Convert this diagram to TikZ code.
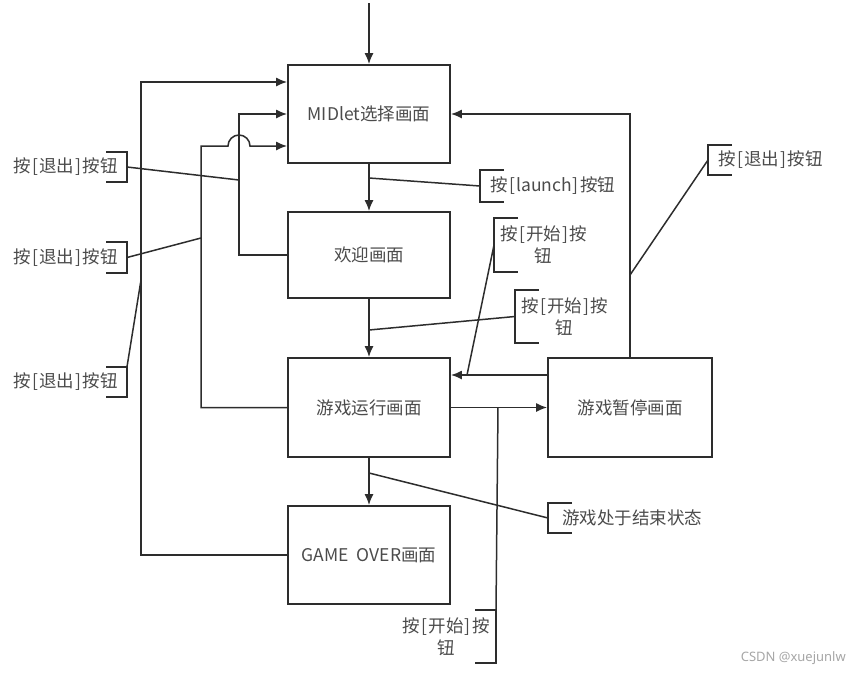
\documentclass[tikz,border=0pt]{standalone}
\usepackage{fontspec}
\setmainfont{Noto Sans CJK SC}
\newfontfamily\markfont{Noto Sans}
\usetikzlibrary{arrows.meta,calc,positioning}
\definecolor{LineGray}{RGB}{45,45,45}
\definecolor{TextGray}{RGB}{75,75,75}
\newcommand{\lblfont}{\fontsize{17.5}{22}\selectfont}
\newcommand{\lbk}{\hspace{0.1em}[\hspace{0.05em}}
\newcommand{\rbk}{\hspace{0.05em}]\hspace{0.1em}}

\begin{document}
\begin{tikzpicture}[x=1pt,y=-1pt,>={Latex[length=11pt,width=9pt]},
    screen/.style={draw=LineGray,line width=1.8pt,minimum width=162pt,inner sep=0pt,font=\lblfont,text=TextGray},
    wire/.style={LineGray,line width=1.5pt},
    tag/.style={font=\lblfont,text=TextGray,inner sep=0pt,minimum height=30pt,align=center},
    brk/.style={LineGray,line width=1.8pt}]
      \useasboundingbox (0,0) rectangle (850,673);
      \node[screen,minimum height=98pt] (midlet) at (369,114) {MIDlet选择画面};
      \node[screen,minimum height=86pt] (welcome) at (369,255) {欢迎画面};
      \node[screen,minimum height=99pt] (running) at (369,407.5) {游戏运行画面};
      \node[screen,minimum height=99pt,minimum width=164pt] (paused) at (630,407.5) {游戏暂停画面};
      \node[screen,minimum height=98pt] (gameover) at (369,555) {GAME\ \ OVER画面};
      \coordinate (entry) at (369,3);
      \draw[wire,->] (entry) -- (midlet);
      \draw[wire,->] (midlet) -- (welcome);
      \draw[wire,->] (welcome) -- (running);
      \draw[wire,->] (running) -- (gameover);
      \draw[wire,->] (running) -- (paused);
      \draw[wire,->] (paused.west |- 0,375) -- (running.east |- 0,375);
      \draw[wire,->] (paused) |- (midlet);
      \draw[wire,->] (gameover) -| (141,82) -- (midlet.west |- 0,82);
      \draw[wire,->] (welcome) -| (239,114) -- (midlet);
      \draw[wire,->] (running) -| (201,146) -- (228,146) arc[start angle=180,end angle=0,radius=11pt] -- (midlet.west |- 0,146);
      \node[tag,anchor=east,inner xsep=9pt] (quitA) at (127,167) {按\lbk 退出\rbk 按钮};
      \node[tag,anchor=east,inner xsep=9pt] (quitB) at (127,257.5) {按\lbk 退出\rbk 按钮};
      \node[tag,anchor=east,inner xsep=9pt] (quitC) at (127,382) {按\lbk 退出\rbk 按钮};
      \node[tag,anchor=west,inner xsep=10pt,minimum height=32pt] (launch) at (480,186) {按\lbk launch\rbk 按钮};
      \node[tag,anchor=west,inner xsep=6pt,minimum height=54pt] (startA) at (494,245) {按\lbk 开始\rbk 按\\钮};
      \node[tag,anchor=west,inner xsep=6pt,minimum height=53pt] (startB) at (515,316.5) {按\lbk 开始\rbk 按\\钮};
      \node[tag,anchor=west,inner xsep=10pt] (quitD) at (708,160) {按\lbk 退出\rbk 按钮};
      \node[tag,anchor=west,inner xsep=14pt] (overTag) at (548,518) {游戏处于结束状态};
      \node[tag,anchor=east,inner xsep=6pt,minimum height=53pt] (startC) at (496,636.5) {按\lbk 开始\rbk 按\\钮};
      \foreach \t in {quitA,quitB,quitC,startC}
        \draw[brk] ([xshift=-21pt]\t.north east) -- (\t.north east) -- (\t.south east) -- ++(-21pt,0);
      \foreach \t in {launch,startA,startB,quitD,overTag}
        \draw[brk] ([xshift=24pt]\t.north west) -- (\t.north west) -- (\t.south west) -- ++(24pt,0);
      \coordinate (hitA) at (239,180);
      \coordinate (hitB) at (201,238);
      \coordinate (hitC) at (141,280);
      \coordinate (hitL) at (369,178);
      \coordinate (hitS1) at (467,375);
      \coordinate (hitS2) at (369,330);
      \coordinate (hitD) at (630,275);
      \coordinate (hitE) at (369,473);
      \coordinate (hitS3) at (498,407);
      \draw[wire] (quitA.east) -- (hitA);
      \draw[wire] (quitB.east) -- (hitB);
      \draw[wire] (quitC.north east) -- (hitC);
      \draw[wire] (launch.west) -- (hitL);
      \draw[wire] (startA.west) -- (hitS1);
      \draw[wire] (startB.west) -- (hitS2);
      \draw[wire] (quitD.west) -- (hitD);
      \draw[wire] (overTag.west) -- (hitE);
      \draw[wire] (startC.north east) -- (hitS3);
      \node[anchor=east,font=\markfont\fontsize{13}{15}\selectfont,text=black!35,inner sep=0pt] (mark) at (846,658) {CSDN @xuejunlw};
    \end{tikzpicture}
\end{document}
